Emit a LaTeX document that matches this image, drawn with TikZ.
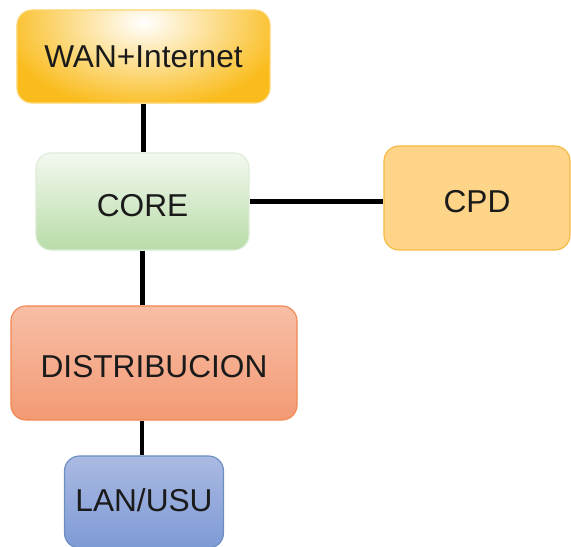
\documentclass[tikz,border=0pt]{standalone}
\usepackage{fontspec}
\setmainfont{Liberation Sans}
\definecolor{wanorange}{RGB}{250,188,28}
\definecolor{coretop}{RGB}{243,248,240}
\definecolor{corebottom}{RGB}{184,220,168}
\definecolor{coreborder}{RGB}{220,236,214}
\definecolor{cpdfill}{RGB}{254,212,136}
\definecolor{cpdborder}{RGB}{246,186,66}
\definecolor{disttop}{RGB}{247,190,166}
\definecolor{distbottom}{RGB}{243,154,116}
\definecolor{distborder}{RGB}{240,136,80}
\definecolor{lantop}{RGB}{170,186,226}
\definecolor{lanbottom}{RGB}{126,154,214}
\definecolor{lanborder}{RGB}{108,142,191}
\definecolor{textcolor}{RGB}{26,26,26}

\tikzset{
  box/.style={rectangle, rounded corners=0.375cm, line width=0.8pt,
    inner sep=0pt, text=textcolor, text height=21pt, text depth=0pt,
    font=\fontsize{22.5}{27}\selectfont},
  link/.style={line width=3.2pt, black}
}

\begin{document}
\begin{tikzpicture}[x=0.025cm, y=-0.025cm]
\useasboundingbox (0,0) rectangle (571,546);

% Boxes
\node[box, fill=wanorange, draw=wanorange!60, text height=16pt,
  minimum width=6.325cm, minimum height=2.325cm,
  path picture={\shade[inner color=white, outer color=wanorange]
    ([yshift=-0.3cm]path picture bounding box.north) ellipse (3.6cm and 2.2cm);}]
  (wan) at (143.5,56.5) {WAN+Internet};
\node[box, top color=coretop, bottom color=corebottom, draw=coreborder,
  minimum width=5.325cm, minimum height=2.425cm]
  (core) at (142.5,201.5) {CORE};
\node[box, fill=cpdfill, draw=cpdborder,
  minimum width=4.65cm, minimum height=2.6cm]
  (cpd) at (477,198) {CPD};
\node[box, top color=disttop, bottom color=distbottom, draw=distborder,
  text height=20pt, minimum width=7.15cm, minimum height=2.85cm]
  (dist) at (154,363) {DISTRIBUCION};
\node[box, top color=lantop, bottom color=lanbottom, draw=lanborder,
  text height=13pt, minimum width=3.975cm, minimum height=2.3cm]
  (lan) at (144,502) {LAN/USU};

% Links
\draw[link] (wan.south) -- (wan.south |- core.north);
\draw[link] (core.east) -- (core.east -| cpd.west);
\draw[link] (core.south) -- (core.south |- dist.north);
\draw[link] ([xshift=-0.05cm]lan.north |- dist.south) -- ([xshift=-0.05cm]lan.north);

\end{tikzpicture}
\end{document}
